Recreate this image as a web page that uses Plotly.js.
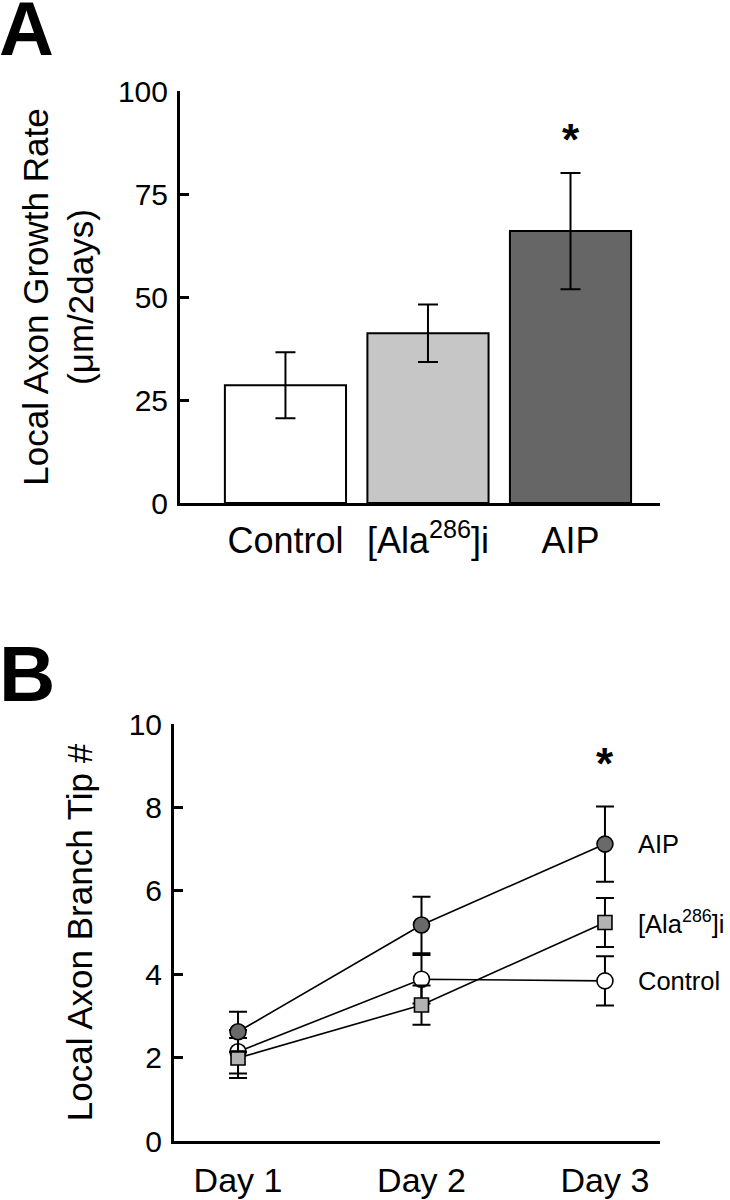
<!DOCTYPE html>
<html><head><meta charset="utf-8">
<script src="https://cdn.plot.ly/plotly-3.0.1.min.js"></script>
<style>html,body{margin:0;padding:0;background:#fff}</style>
</head><body><div id="chart" style="width:730px;height:1200px"></div>
<script>
// Panel A data
const categoriesA = ['Control', '[Ala<sup>286</sup>]i', 'AIP'];
const growthRate = [28.6, 41.2, 66.0];
const growthErr = [8.0, 7.0, 14.1];
const barColors = ['#ffffff', '#c6c6c6', '#666666'];
const tickValsA = [0, 25, 50, 75, 100];

// Panel B data
const days = ['Day 1', 'Day 2', 'Day 3'];
const aipTips = [2.62, 5.18, 7.12];
const aipErr = [0.48, 0.68, 0.90];
const alaTips = [1.99, 3.26, 5.24];
const alaErr = [0.48, 0.47, 0.59];
const controlTips = [2.14, 3.88, 3.84];
const controlErr = [0.52, 0.58, 0.59];
const seriesNames = ['AIP', '[Ala<sup>286</sup>]i', 'Control'];
const tickValsB = [0, 2, 4, 6, 8, 10];

const FONT = 'Liberation Sans, Arial, Helvetica, sans-serif';
const W = 730, H = 1200;

const errStyle = (arr, w) => ({type: 'data', array: arr, visible: true, color: '#000', thickness: 2, width: w});

const traces = [
  {
    type: 'bar', x: categoriesA, y: growthRate, xaxis: 'x', yaxis: 'y',
    width: 0.85,
    marker: {color: barColors, line: {color: '#000', width: 2}},
    error_y: errStyle(growthErr, 10),
    showlegend: false, hoverinfo: 'x+y'
  }
];

const seriesB = [
  {y: controlTips, e: controlErr, sym: 'circle', col: '#ffffff', size: 16},
  {y: alaTips, e: alaErr, sym: 'square', col: '#b3b3b3', size: 14},
  {y: aipTips, e: aipErr, sym: 'circle', col: '#6a6a6a', size: 16}
];
seriesB.forEach(s => {
  traces.push({
    type: 'scatter', mode: 'lines+markers', x: days, y: s.y, xaxis: 'x2', yaxis: 'y2',
    line: {color: '#000', width: 1.6},
    marker: {symbol: s.sym, size: s.size, color: s.col, line: {color: '#000', width: 1.6}},
    error_y: errStyle(s.e, 9),
    showlegend: false
  });
});

const lastVals = [aipTips[2], alaTips[2], controlTips[2]];
const annotations = [
  {xref: 'paper', yref: 'paper', x: -0.004, y: 1 + 16 / H, xanchor: 'left', yanchor: 'top',
   text: '<b>A</b>', showarrow: false, font: {family: FONT, size: 76, color: '#000'}},
  {xref: 'paper', yref: 'paper', x: -0.004, y: 1 - 628 / H, xanchor: 'left', yanchor: 'top',
   text: '<b>B</b>', showarrow: false, font: {family: FONT, size: 78, color: '#000'}},
  {xref: 'x', yref: 'y', x: categoriesA[2], y: 89.8, yshift: -6, text: '<b>*</b>', showarrow: false,
   font: {family: FONT, size: 44, color: '#000'}},
  {xref: 'x2', yref: 'y2', x: days[2], y: 9.23, yshift: -7, text: '<b>*</b>', showarrow: false,
   font: {family: FONT, size: 44, color: '#000'}}
];
seriesNames.forEach((n, i) => {
  annotations.push({xref: 'x2', yref: 'y2', x: days[2], y: lastVals[i], xshift: 31, xanchor: 'left',
    yanchor: 'middle', text: n, showarrow: false, font: {family: FONT, size: 25.5, color: '#000'}});
});

const axisCommon = {
  showline: true, linecolor: '#000', linewidth: 3, showgrid: false, zeroline: false,
  color: '#000'
};

const layout = {
  width: W, height: H,
  margin: {l: 0, r: 0, t: 0, b: 0},
  paper_bgcolor: '#fff', plot_bgcolor: 'rgba(0,0,0,0)',
  font: {family: FONT, color: '#000'},
  showlegend: false,
  xaxis: Object.assign({}, axisCommon, {
    domain: [180 / W, 660 / W], anchor: 'y', type: 'category',
    range: [-0.74, 2.628], ticks: '', tickfont: {size: 36}, ticklabelstandoff: 4
  }),
  yaxis: Object.assign({}, axisCommon, {
    domain: [1 - 503 / H, 1 - 91 / H], anchor: 'x', range: [0, 100],
    tickvals: tickValsA, ticks: 'inside', ticklen: 9, tickwidth: 3, tickcolor: '#000',
    tickfont: {size: 30}, ticklabelstandoff: 3,
    title: {text: 'Local Axon Growth Rate<br>(\u03bcm/2days)', font: {size: 35}, standoff: 14}
  }),
  xaxis2: Object.assign({}, axisCommon, {
    domain: [174 / W, 660 / W], anchor: 'y2', type: 'category',
    range: [-0.349, 2.30], ticks: '', tickfont: {size: 34}, ticklabelstandoff: 7
  }),
  yaxis2: Object.assign({}, axisCommon, {
    domain: [1 - 1141 / H, 1 - 724 / H], anchor: 'x2', range: [0, 10],
    tickvals: tickValsB, ticks: 'inside', ticklen: 9, tickwidth: 3, tickcolor: '#000',
    tickfont: {size: 30}, ticklabelstandoff: 3,
    title: {text: 'Local Axon Branch Tip #', font: {size: 35}, standoff: 26}
  }),
  annotations: annotations
};

Plotly.newPlot('chart', traces, layout, {displayModeBar: false, staticPlot: true});
</script>
</body></html>
